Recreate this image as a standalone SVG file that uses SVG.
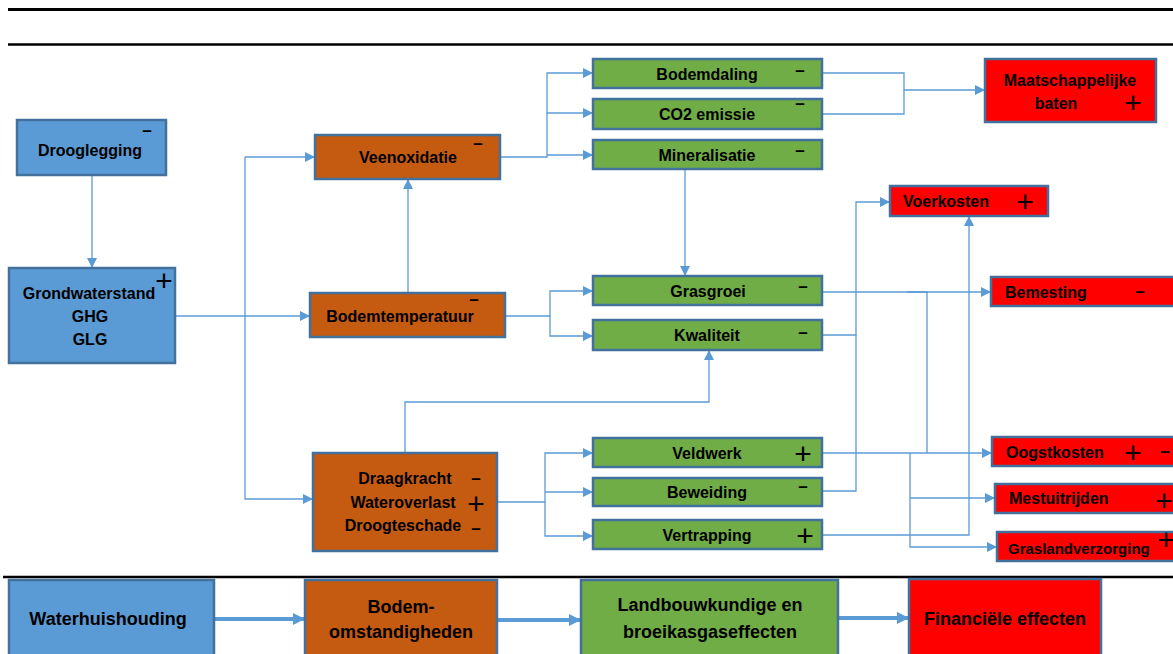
<svg xmlns="http://www.w3.org/2000/svg" width="1173" height="654" viewBox="0 0 1173 654">
<defs>
<marker id="ah" markerUnits="userSpaceOnUse" markerWidth="10" markerHeight="10" refX="10" refY="5" orient="auto"><path d="M0,0 L10,5 L0,10 z" fill="#5B9BD5"/></marker>
<marker id="ahL" markerUnits="userSpaceOnUse" markerWidth="12" markerHeight="12" refX="12" refY="6" orient="auto"><path d="M0,0 L12,6 L0,12 z" fill="#5B9BD5"/></marker>
</defs>
<style>
.b{stroke:#41719C;stroke-width:2.5}
.blue{fill:#5B9BD5}.or{fill:#C55A11}.gr{fill:#70AD47}.rd{fill:#FF0000}
text{font-family:"Liberation Sans",Arial,sans-serif;font-weight:bold;font-size:16px;fill:#000}
.c{text-anchor:middle}
.lg{font-size:18px}
.pl{font-weight:normal;font-size:30px;text-anchor:middle}
.mn{font-size:17px;text-anchor:middle}
.con path{fill:none;stroke:#5B9BD5;stroke-width:1.3}
.leg path{fill:none;stroke:#5B9BD5;stroke-width:4}
</style>
<rect width="1173" height="654" fill="#fff"/>
<g id="rules" stroke="#000">
<line x1="8" y1="9.5" x2="1173" y2="9.5" stroke-width="3"/>
<line x1="8" y1="44.5" x2="1173" y2="44.5" stroke-width="2.5"/>
<line x1="3" y1="577" x2="1173" y2="577" stroke-width="2.5"/>
</g>
<g class="con">
<path d="M92,175 V268" marker-end="url(#ah)"/>
<path d="M175,316 H310" marker-end="url(#ah)"/>
<path d="M245,157 V499 H313" marker-end="url(#ah)"/>
<path d="M245,157 H315" marker-end="url(#ah)"/>
<path d="M408,293 V179" marker-end="url(#ah)"/>
<path d="M500,157 H547 V73 H593" marker-end="url(#ah)"/>
<path d="M547,113 H593" marker-end="url(#ah)"/>
<path d="M547,155 H593" marker-end="url(#ah)"/>
<path d="M505,316 H550 V291 H593" marker-end="url(#ah)"/>
<path d="M550,316 V336 H593" marker-end="url(#ah)"/>
<path d="M685,169 V276" marker-end="url(#ah)"/>
<path d="M405,453 V402 H709 V350" marker-end="url(#ah)"/>
<path d="M497,502 H545 V453 H593" marker-end="url(#ah)"/>
<path d="M545,492 H593" marker-end="url(#ah)"/>
<path d="M545,502 V536 H593" marker-end="url(#ah)"/>
<path d="M822,73 H904 V90 H985" marker-end="url(#ah)"/>
<path d="M822,114 H904 V90"/>
<path d="M822,292 H991" marker-end="url(#ah)"/>
<path d="M907,292 H927 V453"/>
<path d="M822,335 H856 V202 H890" marker-end="url(#ah)"/>
<path d="M822,491 H856 V335"/>
<path d="M822,535 H969 V216" marker-end="url(#ah)"/>
<path d="M822,453 H992" marker-end="url(#ah)"/>
<path d="M910,453 V547 H997" marker-end="url(#ah)"/>
<path d="M910,498 H995" marker-end="url(#ah)"/>
</g>
<g id="drooglegging"><rect x="17" y="120" width="149" height="55" class="b blue"/><text x="90" y="156" class="c">Drooglegging</text><text x="147" y="136" class="mn">–</text></g>
<g id="grondwaterstand"><rect x="9" y="268" width="166" height="95" class="b blue"/><text x="89" y="299" class="c">Grondwaterstand</text><text x="90" y="322" class="c">GHG</text><text x="90" y="345" class="c">GLG</text><text x="164" y="291" class="pl">+</text></g>
<g id="veenoxidatie"><rect x="315" y="135" width="185" height="44" class="b or"/><text x="408" y="163" class="c">Veenoxidatie</text><text x="478" y="149" class="mn">–</text></g>
<g id="bodemtemperatuur"><rect x="310" y="293" width="195" height="44" class="b or"/><text x="400" y="322" class="c">Bodemtemperatuur</text><text x="474" y="305" class="mn">–</text></g>
<g id="draagkracht"><rect x="313" y="453" width="184" height="98" class="b or"/><text x="405" y="484" class="c">Draagkracht</text><text x="403" y="508" class="c">Wateroverlast</text><text x="403" y="531" class="c">Droogteschade</text><text x="476" y="484" class="mn">–</text><text x="476" y="514" class="pl">+</text><text x="476" y="534" class="mn">–</text></g>
<g id="bodemdaling"><rect x="593" y="59" width="229" height="29" class="b gr"/><text x="707" y="80" class="c">Bodemdaling</text><text x="800" y="76" class="mn">–</text></g>
<g id="co2"><rect x="593" y="99" width="229" height="30" class="b gr"/><text x="707" y="120" class="c">CO2 emissie</text><text x="800" y="109" class="mn">–</text></g>
<g id="mineralisatie"><rect x="593" y="140" width="229" height="29" class="b gr"/><text x="707" y="161" class="c">Mineralisatie</text><text x="800" y="156" class="mn">–</text></g>
<g id="grasgroei"><rect x="593" y="276" width="229" height="29" class="b gr"/><text x="708" y="297" class="c">Grasgroei</text><text x="803" y="292" class="mn">–</text></g>
<g id="kwaliteit"><rect x="593" y="320" width="229" height="30" class="b gr"/><text x="707" y="341" class="c">Kwaliteit</text><text x="803" y="338" class="mn">–</text></g>
<g id="veldwerk"><rect x="593" y="438" width="229" height="29" class="b gr"/><text x="707" y="459" class="c">Veldwerk</text><text x="803" y="464" class="pl">+</text></g>
<g id="beweiding"><rect x="593" y="478" width="229" height="28" class="b gr"/><text x="707" y="498" class="c">Beweiding</text><text x="803" y="492" class="mn">–</text></g>
<g id="vertrapping"><rect x="593" y="520" width="229" height="29" class="b gr"/><text x="707" y="541" class="c">Vertrapping</text><text x="805" y="546" class="pl">+</text></g>
<g id="maatschappelijke"><rect x="985" y="59" width="171" height="63" class="b rd"/><text x="1070" y="86" class="c">Maatschappelijke</text><text x="1056" y="109" class="c">baten</text><text x="1133" y="113" class="pl">+</text></g>
<g id="voerkosten"><rect x="890" y="186" width="158" height="30" class="b rd"/><text x="903" y="207">Voerkosten</text><text x="1025" y="212" class="pl">+</text></g>
<g id="bemesting"><rect x="991" y="277" width="184" height="29" class="b rd"/><text x="1005" y="298">Bemesting</text><text x="1140" y="297" class="mn">–</text></g>
<g id="oogstkosten"><rect x="992" y="437" width="183" height="29" class="b rd"/><text x="1006" y="458">Oogstkosten</text><text x="1133" y="463" class="pl">+</text><text x="1165" y="457" class="mn">–</text></g>
<g id="mestuitrijden"><rect x="995" y="484" width="180" height="29" class="b rd"/><text x="1009" y="504">Mestuitrijden</text><text x="1164" y="511" class="pl">+</text></g>
<g id="graslandverzorging"><rect x="997" y="532" width="178" height="29" class="b rd"/><text x="1008" y="554" style="font-size:15px">Graslandverzorging</text><text x="1166" y="550" class="pl">+</text></g>
<g class="leg">
<path d="M214,619 H305" marker-end="url(#ahL)"/>
<path d="M497,620 H581" marker-end="url(#ahL)"/>
<path d="M838,618 H909" marker-end="url(#ahL)"/>
</g>
<g id="leg-water"><rect x="9" y="580" width="205" height="80" class="b blue"/><text x="108" y="625" class="c lg">Waterhuishouding</text></g>
<g id="leg-bodem"><rect x="305" y="580" width="192" height="80" class="b or"/><text x="401" y="613" class="c lg">Bodem-</text><text x="401" y="638" class="c lg">omstandigheden</text></g>
<g id="leg-landbouw"><rect x="581" y="580" width="257" height="80" class="b gr"/><text x="710" y="611" class="c lg">Landbouwkundige en</text><text x="710" y="638" class="c lg">broeikasgaseffecten</text></g>
<g id="leg-fin"><rect x="909" y="579" width="192" height="81" class="b rd"/><text x="1005" y="625" class="c lg">Financiële effecten</text></g>
</svg>
